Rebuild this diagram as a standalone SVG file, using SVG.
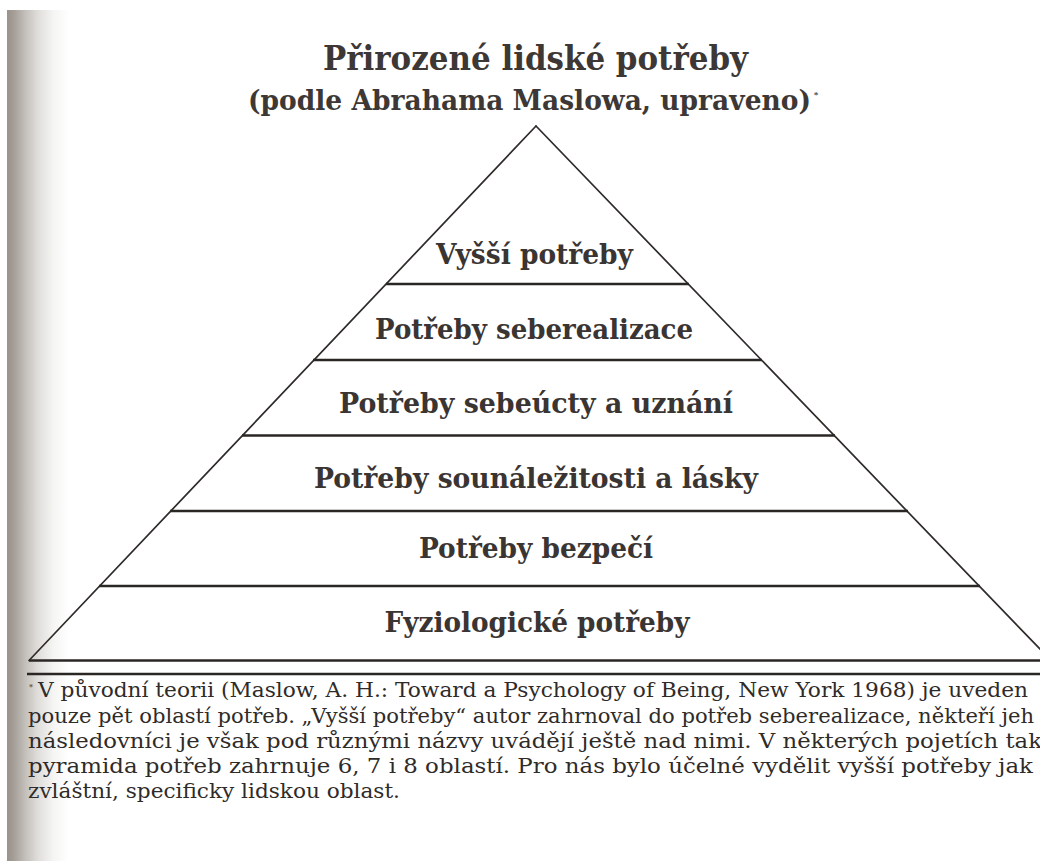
<svg xmlns="http://www.w3.org/2000/svg" width="1040" height="861" viewBox="0 0 1040 861">
  <defs>
    <linearGradient id="binding" x1="0" y1="0" x2="1" y2="0">
      <stop offset="0" stop-color="#9a938c"/>
      <stop offset="0.1" stop-color="#a39d96"/>
      <stop offset="0.3" stop-color="#c4c0bb"/>
      <stop offset="0.5" stop-color="#e0dedb"/>
      <stop offset="0.75" stop-color="#f5f5f4"/>
      <stop offset="1" stop-color="#ffffff"/>
    </linearGradient>
    <style>
      .title { font-family: "DejaVu Serif", "Liberation Serif", serif; font-weight: bold; fill: #3d3835; }
      .label { font-family: "DejaVu Serif", "Liberation Serif", serif; font-weight: bold; font-size: 28.5px; fill: #3a3533; text-anchor: middle; }
      .note { font-family: "DejaVu Serif", "Liberation Serif", serif; font-size: 19.5px; fill: #2f2b29; }
      .side { stroke: #2e2b29; stroke-width: 1.7; fill: none; stroke-linecap: round; }
      .bar { stroke: #2a2624; stroke-width: 2.4; fill: none; }
    </style>
  </defs>

  <rect x="0" y="0" width="1040" height="861" fill="#ffffff"/>
  <rect x="7" y="10" width="62" height="851" fill="url(#binding)"/>

  <g id="heading">
    <text class="title" x="535.5" y="70" font-size="33" text-anchor="middle" textLength="425" lengthAdjust="spacingAndGlyphs">Přirozené lidské potřeby</text>
    <text class="title" x="248" y="110" font-size="28.5"><tspan textLength="563" lengthAdjust="spacingAndGlyphs">(podle Abrahama Maslowa, upraveno)</tspan><tspan font-size="8" dx="3" dy="-13">*</tspan></text>
  </g>

  <g id="pyramid-lines">
    <line class="side" x1="536" y1="126" x2="29" y2="660.5"/>
    <line class="side" x1="536" y1="126" x2="1051" y2="660.5"/>
    <line class="bar" x1="386" y1="284" x2="689" y2="284"/>
    <line class="bar" x1="313" y1="360" x2="762" y2="360"/>
    <line class="bar" x1="242" y1="435.5" x2="835" y2="435.5"/>
    <line class="bar" x1="170" y1="511" x2="908" y2="511"/>
    <line class="bar" x1="99" y1="586" x2="980" y2="586"/>
    <line class="bar" x1="29" y1="660.5" x2="1040" y2="660.5"/>
    <line class="bar" x1="27" y1="674" x2="1040" y2="674"/>
  </g>

  <g id="level-higher">
    <text class="label" x="534.5" y="264" textLength="197" lengthAdjust="spacingAndGlyphs">Vyšší potřeby</text>
  </g>
  <g id="level-self-actualization">
    <text class="label" x="534" y="339" textLength="318" lengthAdjust="spacingAndGlyphs">Potřeby seberealizace</text>
  </g>
  <g id="level-esteem">
    <text class="label" x="536" y="413" textLength="394" lengthAdjust="spacingAndGlyphs">Potřeby sebeúcty a uznání</text>
  </g>
  <g id="level-belonging">
    <text class="label" x="536" y="488" textLength="444" lengthAdjust="spacingAndGlyphs">Potřeby sounáležitosti a lásky</text>
  </g>
  <g id="level-safety">
    <text class="label" x="536" y="558" textLength="234" lengthAdjust="spacingAndGlyphs">Potřeby bezpečí</text>
  </g>
  <g id="level-physiological">
    <text class="label" x="537" y="632" textLength="305" lengthAdjust="spacingAndGlyphs">Fyziologické potřeby</text>
  </g>

  <g id="footnote">
    <text class="note" x="29" y="697"><tspan font-size="8" dy="-7">*</tspan><tspan x="38" y="697" textLength="990" lengthAdjust="spacingAndGlyphs">V původní teorii (Maslow, A. H.: Toward a Psychology of Being, New York 1968) je uveden</tspan></text>
    <text class="note" x="28" y="722.5" textLength="1006" lengthAdjust="spacingAndGlyphs">pouze pět oblastí potřeb. „Vyšší potřeby“ autor zahrnoval do potřeb seberealizace, někteří jeh</text>
    <text class="note" x="28" y="747.5" textLength="1014" lengthAdjust="spacingAndGlyphs">následovníci je však pod různými názvy uvádějí ještě nad nimi. V některých pojetích tak</text>
    <text class="note" x="28" y="772.5" textLength="1005" lengthAdjust="spacingAndGlyphs">pyramida potřeb zahrnuje 6, 7 i 8 oblastí. Pro nás bylo účelné vydělit vyšší potřeby jak</text>
    <text class="note" x="28" y="797.5" textLength="372" lengthAdjust="spacingAndGlyphs">zvláštní, specificky lidskou oblast.</text>
  </g>
</svg>
